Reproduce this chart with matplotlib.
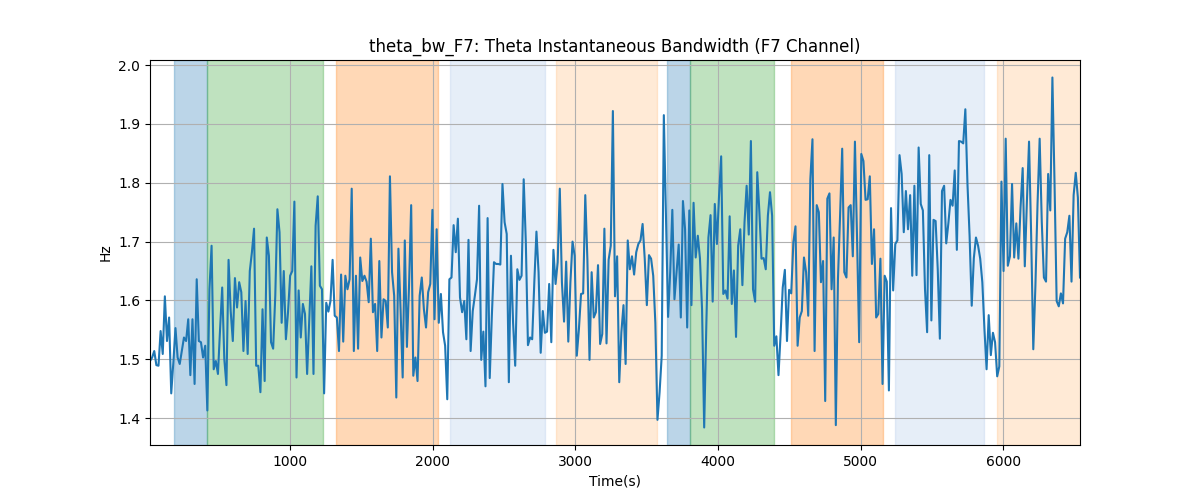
import numpy as np
import matplotlib
matplotlib.use("Agg")
import matplotlib.pyplot as plt

t_start = 18.0
t_end = 6538.0

values = [
    # segment 1
    1.497, 1.503, 1.514, 1.490, 1.489, 1.548, 1.509, 1.607, 1.531, 1.571, 1.442, 1.495, 1.553, 1.503, 1.492,
    1.514, 1.537, 1.531, 1.568, 1.473, 1.568, 1.458, 1.636, 1.531, 1.529, 1.503, 1.523, 1.413, 1.619, 1.693,
    1.483, 1.497, 1.475, 1.551, 1.622, 1.500, 1.456, 1.669, 1.582, 1.531, 1.638, 1.588, 1.631, 1.614, 1.514,
    1.599, 1.509, 1.650, 1.682, 1.722, 1.489, 1.489, 1.444, 1.585, 1.463,
    # segment 2
    1.707, 1.676, 1.529, 1.518, 1.608, 1.755, 1.716, 1.562, 1.650, 1.534, 1.580, 1.642, 1.650, 1.768, 1.469,
    1.617, 1.537, 1.594, 1.577, 1.475, 1.568, 1.658, 1.475, 1.727, 1.777, 1.625, 1.619, 1.442, 1.596, 1.581,
    1.599, 1.669, 1.574, 1.571, 1.514, 1.644, 1.530, 1.642, 1.619, 1.636, 1.790, 1.514, 1.642, 1.518, 1.673,
    1.633, 1.642, 1.632, 1.597, 1.705, 1.580, 1.594, 1.514, 1.667, 1.537, 1.602,
    # segment 3
    1.599, 1.554, 1.811, 1.648, 1.608, 1.435, 1.688, 1.585, 1.469, 1.702, 1.521, 1.625, 1.762, 1.472, 1.503,
    1.463, 1.608, 1.639, 1.585, 1.554, 1.614, 1.628, 1.754, 1.568, 1.721, 1.562, 1.611, 1.546, 1.523, 1.432,
    1.636, 1.639, 1.728, 1.682, 1.739, 1.605, 1.580, 1.599, 1.534, 1.703, 1.514, 1.582, 1.608, 1.636, 1.761,
    1.499, 1.547, 1.454, 1.740, 1.468, 1.574, 1.665, 1.662,
    # segment 4
    1.662, 1.661, 1.798, 1.733, 1.713, 1.461, 1.676, 1.562, 1.489, 1.653, 1.635, 1.642, 1.806, 1.699, 1.524,
    1.537, 1.534, 1.631, 1.717, 1.648, 1.511, 1.582, 1.545, 1.547, 1.628, 1.529, 1.686, 1.628, 1.665, 1.790,
    1.631, 1.564, 1.666, 1.530, 1.631, 1.700, 1.676, 1.506, 1.551, 1.611, 1.612, 1.779, 1.669, 1.499, 1.648,
    1.571, 1.580, 1.660, 1.526, 1.543, 1.722, 1.527, 1.669, 1.693, 1.922,
    # segment 5
    1.607, 1.675, 1.461, 1.546, 1.592, 1.492, 1.702, 1.653, 1.675, 1.644, 1.682, 1.696, 1.702, 1.730, 1.671,
    1.592, 1.677, 1.671, 1.642, 1.562, 1.397, 1.444, 1.506, 1.915, 1.744, 1.572, 1.648, 1.754, 1.602, 1.648,
    1.695, 1.571, 1.769, 1.721, 1.554, 1.753, 1.592, 1.766, 1.673, 1.710, 1.672, 1.585, 1.384, 1.557, 1.707,
    1.745, 1.598, 1.764, 1.696, 1.778, 1.845, 1.611, 1.617, 1.603, 1.743,
    # segment 6
    1.594, 1.651, 1.538, 1.693, 1.721, 1.626, 1.733, 1.795, 1.712, 1.871, 1.619, 1.598, 1.818, 1.750, 1.671,
    1.672, 1.653, 1.744, 1.784, 1.744, 1.523, 1.539, 1.473, 1.543, 1.622, 1.652, 1.531, 1.618, 1.612, 1.699,
    1.726, 1.523, 1.571, 1.582, 1.673, 1.648, 1.574, 1.806, 1.874, 1.514, 1.762, 1.750, 1.631, 1.667, 1.429,
    1.773, 1.782, 1.619, 1.707, 1.388, 1.636, 1.744, 1.858, 1.648,
    # segment 7
    1.639, 1.758, 1.762, 1.675, 1.870, 1.705, 1.529, 1.849, 1.837, 1.771, 1.772, 1.811, 1.662, 1.721, 1.571,
    1.577, 1.671, 1.458, 1.642, 1.632, 1.447, 1.757, 1.617, 1.696, 1.702, 1.847, 1.815, 1.716, 1.786, 1.721,
    1.779, 1.642, 1.795, 1.643, 1.860, 1.764, 1.753, 1.619, 1.546, 1.847, 1.566, 1.737, 1.735, 1.653, 1.535,
    1.786, 1.795, 1.697, 1.731, 1.771, 1.761, 1.821, 1.686, 1.871, 1.870,
    # segment 8
    1.867, 1.925, 1.798, 1.710, 1.591, 1.672, 1.707, 1.693, 1.671, 1.631, 1.551, 1.483, 1.575, 1.507, 1.545,
    1.529, 1.471, 1.488, 1.802, 1.650, 1.875, 1.659, 1.675, 1.798, 1.673, 1.731, 1.671, 1.758, 1.825, 1.658,
    1.769, 1.870, 1.710, 1.517, 1.625, 1.764, 1.875, 1.733, 1.639, 1.632, 1.815, 1.753, 1.979, 1.800, 1.599,
    1.590, 1.612, 1.595, 1.705, 1.716, 1.744, 1.632, 1.779, 1.817, 1.775, 1.639,
]

span_starts = [185, 419, 1323, 2124, 2861, 3640, 3804, 4511, 5241, 5958]
span_ends = [419, 1232, 2036, 2786, 3570, 3804, 4390, 5155, 5866, 6600]
span_colors = ["#1f77b4", "#2ca02c", "#ff7f0e", "#aec7e8", "#ffbb78",
               "#1f77b4", "#2ca02c", "#ff7f0e", "#aec7e8", "#ffbb78"]

times = np.linspace(t_start, t_end, len(values))

fig, ax = plt.subplots(figsize=(12, 5), dpi=100)
for s, e, c in zip(span_starts, span_ends, span_colors):
    ax.axvspan(s, e, color=c, alpha=0.3)
ax.plot(times, values, color="#1f77b4", linewidth=1.5)
ax.set_xlim(t_start, t_end)
ax.set_title("theta_bw_F7: Theta Instantaneous Bandwidth (F7 Channel)")
ax.set_xlabel("Time(s)")
ax.set_ylabel("Hz")
ax.grid(True)
fig.savefig("out.png")
